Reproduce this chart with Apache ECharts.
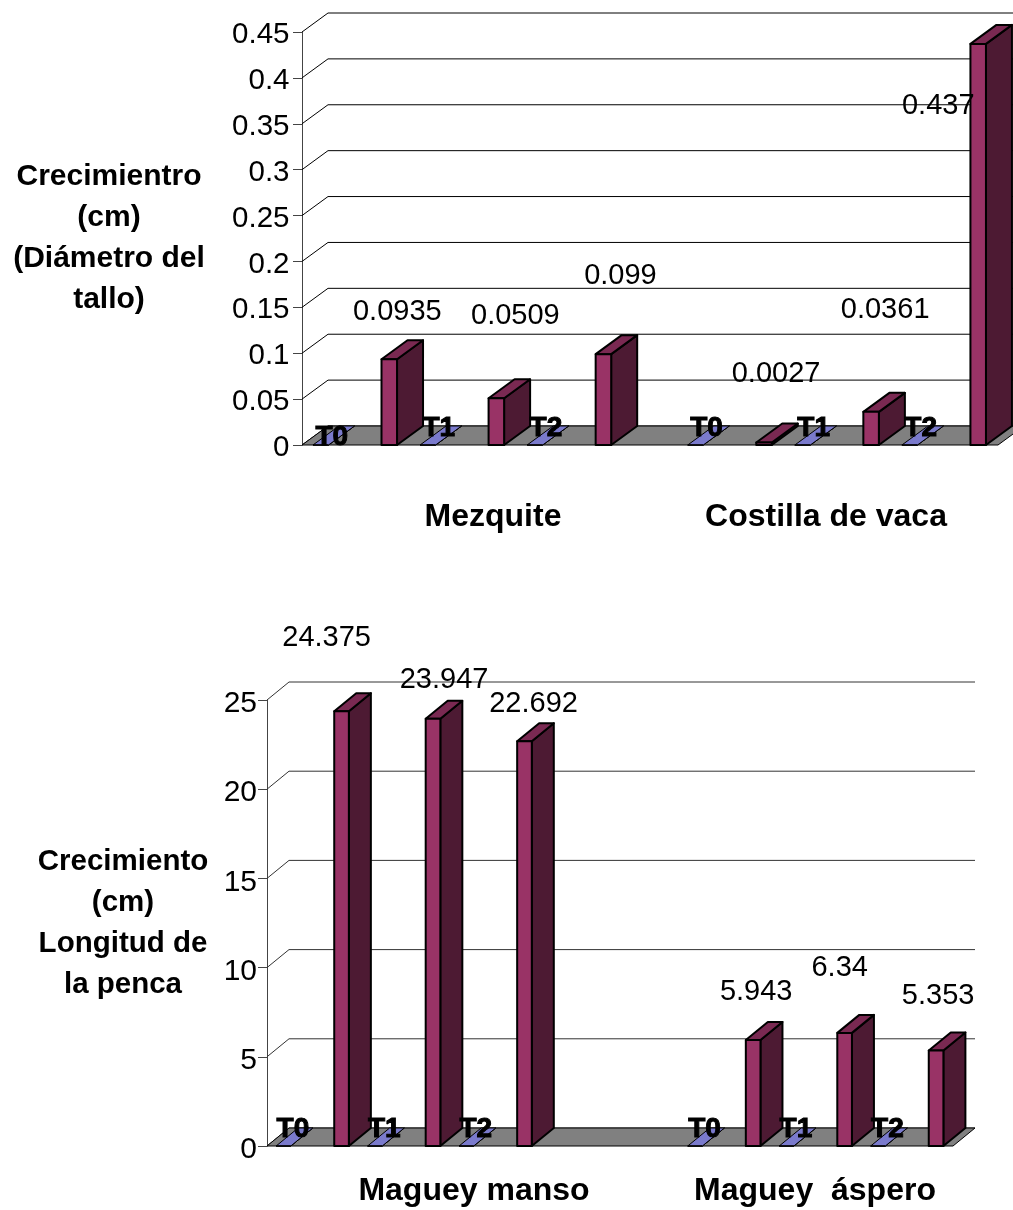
<!DOCTYPE html>
<html>
<head>
<meta charset="utf-8">
<style>
  html, body { margin: 0; padding: 0; background: #fff; }
  #chart { width: 1013px; height: 1210px; }
</style>
<script src="https://cdn.jsdelivr.net/npm/echarts@6/dist/echarts.min.js"></script>
</head>
<body>
<div id="chart"></div>
<script>
// Stem diameter growth: Mezquite and Costilla de vaca
const stemCategories = ['T0', '', 'T1', '', 'T2', '', '', 'T0', '', 'T1', '', 'T2', ''];
const stemBase = [0, null, 0, null, 0, null, null, 0, null, 0, null, 0, null];
const stemGrowth = [null, 0.0935, null, 0.0509, null, 0.099, null, null, 0.0027, null, 0.0361, null, 0.437];
const stemTicks = [0, 0.05, 0.1, 0.15, 0.2, 0.25, 0.3, 0.35, 0.4, 0.45];

// Leaf length growth: Maguey manso and Maguey áspero
const leafCategories = ['T0', '', 'T1', '', 'T2', '', '', '', '', 'T0', '', 'T1', '', 'T2', ''];
const leafBase = [0, null, 0, null, 0, null, null, null, null, 0, null, 0, null, 0, null];
const leafGrowth = [null, 24.375, null, 23.947, null, 22.692, null, null, null, null, 5.943, null, 6.34, null, 5.353];
const leafTicks = [0, 5, 10, 15, 20, 25];

// Hand placement of the value captions, relative to each bar's top, keyed by category index
const stemCaptionShift = { 1: [15, -47], 3: [26, -82], 5: [24, -78], 8: [19, -69], 10: [21, -102], 12: [-33, 62] };
const leafCaptionShift = { 1: [-9, -73], 3: [17, -39], 5: [15, -37], 10: [9, -48], 12: [1, -65], 14: [8, -55] };

const FONT = '"Liberation Sans", Arial, sans-serif';
const FRONT = { base: '#9999ff', growth: '#993366' };
const TOP = { base: '#7a7acc', growth: '#7a2952' };
const SIDE = { base: '#4d4d80', growth: '#4d1a33' };

function pairs(values) {
  return values.map((v, i) => (v === null ? null : [i, v])).filter(Boolean);
}

// Back wall gridline: runs diagonally from the front axis to the wall, then across
function wallSeries(axis, ticks, dx, dy, gridColor) {
  return {
    type: 'custom', xAxisIndex: axis, yAxisIndex: axis, silent: true, z: 1,
    data: ticks.map(t => [0, t]),
    renderItem(params, api) {
      const band = api.size([1, 0])[0];
      const p = api.coord([0, api.value(1)]);
      const left = p[0] - band / 2;
      const right = params.coordSys.x + params.coordSys.width + dx;
      return {
        type: 'polyline',
        shape: { points: [[left, p[1]], [left + dx, p[1] - dy], [right, p[1] - dy]] },
        style: { stroke: gridColor, lineWidth: 1, fill: null }
      };
    }
  };
}

function floorSeries(axis, count, dx, dy) {
  return {
    type: 'custom', xAxisIndex: axis, yAxisIndex: axis, silent: true, z: 2,
    data: [[0, 0]],
    renderItem(params, api) {
      const band = api.size([1, 0])[0];
      const a = api.coord([0, 0]);
      const b = api.coord([count - 1, 0]);
      const l = a[0] - band / 2, r = b[0] + band / 2, y = a[1];
      return {
        type: 'polygon',
        shape: { points: [[l, y], [r, y], [r + dx, y - dy], [l + dx, y - dy]] },
        style: { fill: '#808080', stroke: '#000', lineWidth: 1 }
      };
    }
  };
}

function barSeries(axis, values, kind, shift, widthRatio, dx, dy, lineWidth) {
  return {
    type: 'custom', name: kind, xAxisIndex: axis, yAxisIndex: axis, silent: true, z: 3,
    data: pairs(values),
    renderItem(params, api) {
      const band = api.size([1, 0])[0];
      const w = band * widthRatio;
      const top = api.coord([api.value(0), api.value(1)]);
      const foot = api.coord([api.value(0), 0]);
      const x0 = top[0] + shift * band - w / 2, x1 = x0 + w;
      const y0 = top[1], y1 = foot[1];
      const edge = { stroke: '#000', lineWidth: lineWidth, lineJoin: 'round' };
      return {
        type: 'group',
        children: [
          { type: 'polygon', shape: { points: [[x1, y0], [x1 + dx, y0 - dy], [x1 + dx, y1 - dy], [x1, y1]] },
            style: Object.assign({ fill: SIDE[kind] }, edge) },
          { type: 'polygon', shape: { points: [[x0, y0], [x1, y0], [x1 + dx, y0 - dy], [x0 + dx, y0 - dy]] },
            style: Object.assign({ fill: TOP[kind] }, edge) },
          { type: 'rect', shape: { x: x0, y: y0, width: w, height: y1 - y0 },
            style: Object.assign({ fill: FRONT[kind] }, edge) }
        ]
      };
    }
  };
}

function captionSeries(axis, values, shifts) {
  return {
    type: 'custom', xAxisIndex: axis, yAxisIndex: axis, silent: true, z: 5,
    data: pairs(values),
    renderItem(params, api) {
      const i = api.value(0), v = api.value(1);
      const p = api.coord([i, v]);
      return {
        type: 'text',
        style: {
          x: p[0] + shifts[i][0], y: p[1] + shifts[i][1],
          text: String(v), fill: '#000', align: 'center', verticalAlign: 'middle',
          font: '29px ' + FONT
        }
      };
    }
  };
}

function xAxis(gridIndex, data) {
  return {
    type: 'category', gridIndex, data, z: 10,
    axisLine: { show: false }, axisTick: { show: false }, splitLine: { show: false },
    axisLabel: {
      interval: 0, margin: -31, padding: [0, 0, 0, 6], color: '#000',
      fontFamily: FONT, fontWeight: 'bold', fontSize: 28,
      textBorderColor: '#000', textBorderWidth: 1
    }
  };
}

// A short line box with top alignment drops each tick number slightly below its tick
function yAxis(gridIndex, max, interval, name, nameGap, nameSize, tickSize, labelMargin, labelLine) {
  return {
    type: 'value', gridIndex, min: 0, max, interval,
    name, nameLocation: 'middle', nameRotate: 0, nameGap,
    nameTextStyle: { fontFamily: FONT, fontWeight: 'bold', fontSize: nameSize, lineHeight: 41, align: 'center', color: '#000' },
    axisLine: { show: true, lineStyle: { color: '#444' } },
    axisTick: { show: true, length: 9, lineStyle: { color: '#444' } },
    splitLine: { show: false },
    axisLabel: { margin: labelMargin, verticalAlign: 'top', lineHeight: labelLine, fontFamily: FONT, fontSize: tickSize, color: '#000' }
  };
}

function groupTitle(text, x, y) {
  return {
    text, left: x, top: y, textAlign: 'center', padding: 0,
    textStyle: { fontFamily: FONT, fontWeight: 'bold', fontSize: 32, color: '#000' }
  };
}

// The first caption in the upper chart sits lower on the floor than the others
const stemAxisData = stemCategories.map((c, i) =>
  i === 0 ? { value: c, textStyle: { padding: [9, 0, 0, 6] } } : c);

const chart = echarts.init(document.getElementById('chart'), null, { renderer: 'canvas' });
chart.setOption({
  animation: false,
  backgroundColor: '#fff',
  title: [
    groupTitle('Mezquite', 493, 501),
    groupTitle('Costilla de vaca', 826, 501),
    groupTitle('Maguey manso', 474, 1175),
    groupTitle('Maguey  áspero', 815, 1175)
  ],
  grid: [
    { left: 302, top: 32, width: 696, height: 413 },
    { left: 267, top: 700, width: 686, height: 446 }
  ],
  xAxis: [xAxis(0, stemAxisData), xAxis(1, leafCategories)],
  yAxis: [
    yAxis(0, 0.45, 0.05, 'Crecimientro\n(cm)\n(Diámetro del\ntallo)', 193, 30, 29.5, 12.5, 6),
    yAxis(1, 25, 5, 'Crecimiento\n(cm)\nLongitud de\nla penca', 144, 29.5, 30, 10, 8)
  ],
  series: [
    wallSeries(0, stemTicks, 26, 19, '#000'),
    floorSeries(0, stemCategories.length, 26, 19),
    barSeries(0, stemBase, 'base', -0.15, 0.29, 26, 19, 1),
    barSeries(0, stemGrowth, 'growth', 0.13, 0.29, 26, 19, 2),
    captionSeries(0, stemGrowth, stemCaptionShift),
    wallSeries(1, leafTicks, 22, 18, '#333'),
    floorSeries(1, leafCategories.length, 22, 18),
    barSeries(1, leafBase, 'base', -0.14, 0.32, 22, 18, 1),
    barSeries(1, leafGrowth, 'growth', 0.13, 0.32, 22, 18, 2),
    captionSeries(1, leafGrowth, leafCaptionShift)
  ]
});
</script>
</body>
</html>
